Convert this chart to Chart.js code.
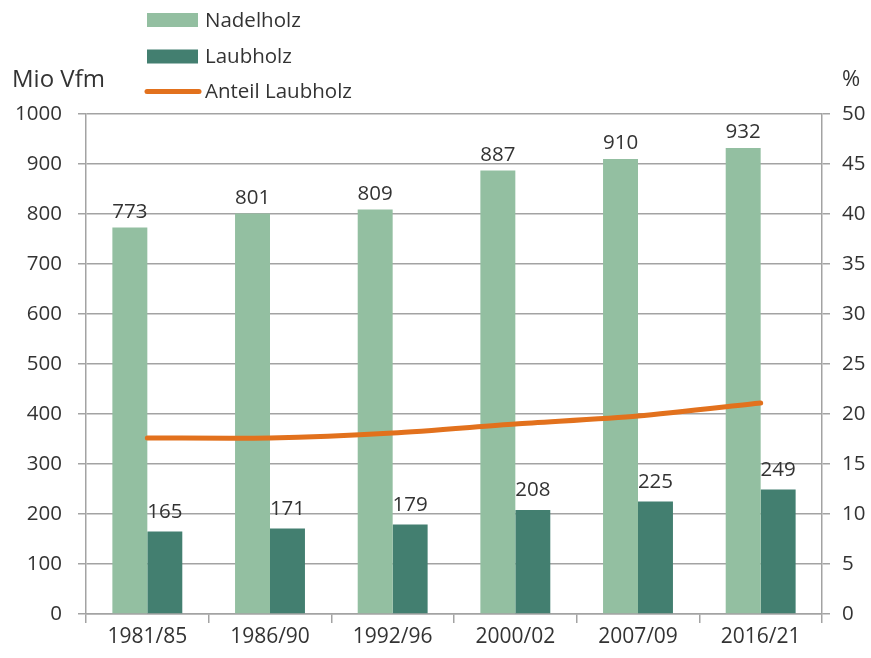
<!DOCTYPE html>
<html>
<head>
<meta charset="utf-8">
<script src="https://cdn.jsdelivr.net/npm/chart.js@4/dist/chart.umd.min.js"></script>
<style>
  html, body { margin: 0; padding: 0; background: #ffffff; }
  #wrap { width: 871px; height: 658px; }
</style>
</head>
<body>
<div id="wrap"><canvas id="c" width="871" height="658"></canvas></div>
<script>
const categories = ['1981/85', '1986/90', '1992/96', '2000/02', '2007/09', '2016/21'];
const nadelholz = [773, 801, 809, 887, 910, 932];
const laubholz = [165, 171, 179, 208, 225, 249];
const anteilLaubholz = [17.6, 17.6, 18.1, 19.0, 19.8, 21.1];
const seriesNames = ['Nadelholz', 'Laubholz', 'Anteil Laubholz'];
const leftAxisTitle = 'Mio Vfm';
const rightAxisTitle = '%';

const FONT = "'Open Sans', 'Noto Sans', sans-serif";
const TEXT = '#333333';
const GRID = '#a3a3a3';
const C_NADEL = '#93bfa1';
const C_LAUB = '#437f70';
const C_LINE = '#e2711d';

const valueLabels = {
  id: 'valueLabels',
  afterDatasetsDraw(chart) {
    const ctx = chart.ctx;
    ctx.save();
    ctx.font = '20.5px ' + FONT;
    ctx.fillStyle = TEXT;
    ctx.textAlign = 'center';
    ctx.textBaseline = 'alphabetic';
    chart.data.datasets.forEach((ds, i) => {
      if (ds.type === 'line') return;
      const gap = ds.labelGap || 9;
      const meta = chart.getDatasetMeta(i);
      meta.data.forEach((el, j) => {
        ctx.fillText(String(ds.data[j]), el.x, el.y - gap);
      });
    });
    ctx.restore();
  }
};

const customLegend = {
  id: 'customLegend',
  afterDraw(chart) {
    const ctx = chart.ctx;
    ctx.save();
    ctx.font = '20.5px ' + FONT;
    ctx.textBaseline = 'middle';
    ctx.textAlign = 'left';
    const rows = [20, 56.5, 91.5];
    chart.data.datasets.forEach((ds, i) => {
      const y = rows[i];
      if (ds.type === 'line') {
        ctx.strokeStyle = ds.borderColor;
        ctx.lineWidth = 5;
        ctx.lineCap = 'round';
        ctx.beginPath();
        ctx.moveTo(147, y);
        ctx.lineTo(199, y);
        ctx.stroke();
      } else {
        ctx.fillStyle = ds.backgroundColor;
        ctx.fillRect(147, y - 7, 51, 14);
      }
      ctx.fillStyle = TEXT;
      ctx.fillText(ds.label, 205, y + 1);
    });
    ctx.font = '24px ' + FONT;
    ctx.fillText(leftAxisTitle, 12, 80);
    ctx.font = '22px ' + FONT;
    ctx.fillText(rightAxisTitle, 842, 80);
    ctx.restore();
  }
};

new Chart(document.getElementById('c'), {
  data: {
    labels: categories,
    datasets: [
      {
        type: 'bar',
        label: seriesNames[0],
        data: nadelholz,
        backgroundColor: C_NADEL,
        yAxisID: 'y',
        order: 1,
        categoryPercentage: 0.57,
        barPercentage: 1.0,
        labelGap: 10
      },
      {
        type: 'bar',
        label: seriesNames[1],
        data: laubholz,
        backgroundColor: C_LAUB,
        yAxisID: 'y',
        order: 2,
        categoryPercentage: 0.57,
        barPercentage: 1.0,
        labelGap: 14
      },
      {
        type: 'line',
        label: seriesNames[2],
        data: anteilLaubholz,
        borderColor: C_LINE,
        backgroundColor: C_LINE,
        borderWidth: 5,
        borderCapStyle: 'round',
        pointRadius: 0,
        tension: 0.25,
        yAxisID: 'y1',
        order: 0
      }
    ]
  },
  options: {
    responsive: false,
    animation: false,
    events: [],
    layout: { padding: { top: 114, left: 0, right: 0, bottom: 0 } },
    plugins: {
      legend: { display: false },
      tooltip: { enabled: false },
      title: { display: false }
    },
    scales: {
      x: {
        offset: true,
        grid: { display: true, drawOnChartArea: false, drawTicks: true, tickLength: 9, color: GRID, lineWidth: 1.5, offset: true },
        border: { display: true, color: GRID, width: 1.5 },
        ticks: { color: TEXT, font: { family: FONT, size: 21 }, padding: 1, maxRotation: 0 },
        afterFit(s) { s.height = 44; }
      },
      y: {
        position: 'left',
        min: 0, max: 1000,
        ticks: { stepSize: 100, color: TEXT, font: { family: FONT, size: 20.5 }, padding: 16, callback: v => String(v) },
        grid: { color: GRID, lineWidth: 1.5, tickLength: 8, drawTicks: true },
        border: { display: true, color: GRID, width: 1.5 },
        afterFit(s) { s.width = 86; }
      },
      y1: {
        position: 'right',
        min: 0, max: 50,
        ticks: { stepSize: 5, color: TEXT, font: { family: FONT, size: 20.5 }, padding: 12, callback: v => String(v) },
        grid: { drawOnChartArea: false, color: GRID, lineWidth: 1.5, tickLength: 8, drawTicks: true },
        border: { display: true, color: GRID, width: 1.5 },
        afterFit(s) { s.width = 49; }
      }
    }
  },
  plugins: [valueLabels, customLegend]
});
</script>
</body>
</html>
